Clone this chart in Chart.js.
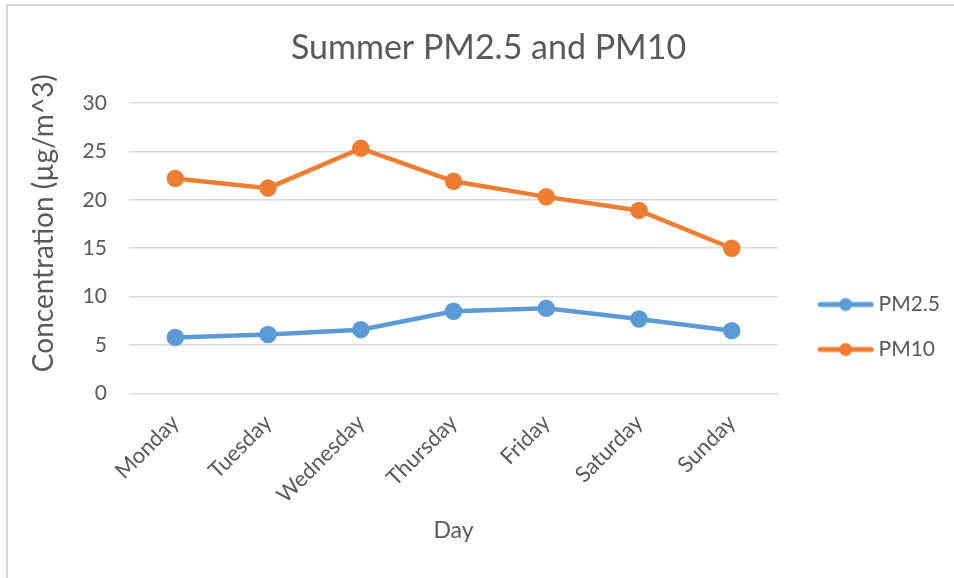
<!DOCTYPE html>
<html>
<head>
<meta charset="utf-8">
<script src="https://cdn.jsdelivr.net/npm/chart.js@4"></script>
<style>
  html, body { margin: 0; padding: 0; background: #fff; }
  #frame {
    position: absolute; left: 6px; top: 4px; width: 960px; height: 572px;
    border-left: 2px solid #d9d9d9; border-top: 2px solid #d9d9d9;
  }
  #wrap { position: absolute; left: 0; top: 0; width: 954px; height: 578px; }
</style>
</head>
<body>
<div id="frame"></div>
<div id="wrap"><canvas id="pmChart"></canvas></div>
<script>
const days = ['Monday', 'Tuesday', 'Wednesday', 'Thursday', 'Friday', 'Saturday', 'Sunday'];
const pm25 = [5.8, 6.1, 6.6, 8.5, 8.8, 7.7, 6.5];
const pm10 = [22.2, 21.2, 25.3, 21.9, 20.3, 18.9, 15.0];

const blue = '#5b9bd5';
const orange = '#ed7d31';
const textColor = '#595959';
const fontFamily = 'Lato, "Open Sans", sans-serif';

// legend marker: line with a dot, blank space on the left so it sits away from the plot
function legendMarker(color) {
  const c = document.createElement('canvas');
  c.width = 78;
  c.height = 16;
  const g = c.getContext('2d');
  g.strokeStyle = color;
  g.lineWidth = 5;
  g.lineCap = 'round';
  g.beginPath();
  g.moveTo(24, 8);
  g.lineTo(75, 8);
  g.stroke();
  g.fillStyle = color;
  g.beginPath();
  g.arc(49.5, 8, 6.5, 0, Math.PI * 2);
  g.fill();
  return c;
}

const ctx = document.getElementById('pmChart').getContext('2d');

new Chart(ctx, {
  type: 'line',
  data: {
    labels: days,
    datasets: [{
      label: 'PM2.5',
      data: pm25,
      borderColor: blue,
      backgroundColor: blue,
      borderWidth: 4.5,
      pointRadius: 6.5,
      pointHoverRadius: 6.5,
      tension: 0
    }, {
      label: 'PM10',
      data: pm10,
      borderColor: orange,
      backgroundColor: orange,
      borderWidth: 4.5,
      pointRadius: 6.5,
      pointHoverRadius: 6.5,
      tension: 0
    }]
  },
  options: {
    responsive: true,
    maintainAspectRatio: false,
    animation: false,
    layout: {
      padding: { left: 27, right: 4, top: 0, bottom: 34 }
    },
    plugins: {
      title: {
        display: true,
        text: 'Summer PM2.5 and PM10',
        color: textColor,
        font: { family: fontFamily, size: 34, weight: 'normal' },
        padding: { top: 28, bottom: 34 }
      },
      legend: {
        position: 'right',
        align: 'center',
        // empty title used only as a spacer to push the items down
        title: {
          display: true,
          text: ' ',
          font: { family: fontFamily, size: 10 },
          padding: { top: 98, bottom: 0 }
        },
        labels: {
          color: textColor,
          font: { family: fontFamily, size: 21 },
          usePointStyle: true,
          pointStyleWidth: 66,
          padding: 24,
          generateLabels(chart) {
            return chart.data.datasets.map((ds, i) => ({
              text: ds.label,
              fontColor: textColor,
              pointStyle: legendMarker(ds.borderColor),
              datasetIndex: i,
              hidden: false,
              lineWidth: 0
            }));
          }
        }
      },
      tooltip: { enabled: false }
    },
    scales: {
      x: {
        offset: true,
        grid: { display: false },
        border: { display: false },
        ticks: {
          color: textColor,
          font: { family: fontFamily, size: 22 },
          minRotation: 45,
          maxRotation: 45,
          padding: 8
        },
        title: {
          display: true,
          text: 'Day',
          color: textColor,
          font: { family: fontFamily, size: 23 },
          padding: { top: 0, bottom: 0 }
        }
      },
      y: {
        min: 0,
        max: 30,
        ticks: {
          stepSize: 5,
          color: textColor,
          font: { family: fontFamily, size: 21 },
          padding: 22
        },
        grid: { color: '#d9d9d9', lineWidth: 1.5, drawTicks: false },
        border: { display: false },
        title: {
          display: true,
          text: '       Concentration (µg/m^3)',
          color: textColor,
          font: { family: fontFamily, size: 28 },
          padding: { top: 0, bottom: 0 }
        }
      }
    }
  }
});
</script>
</body>
</html>
